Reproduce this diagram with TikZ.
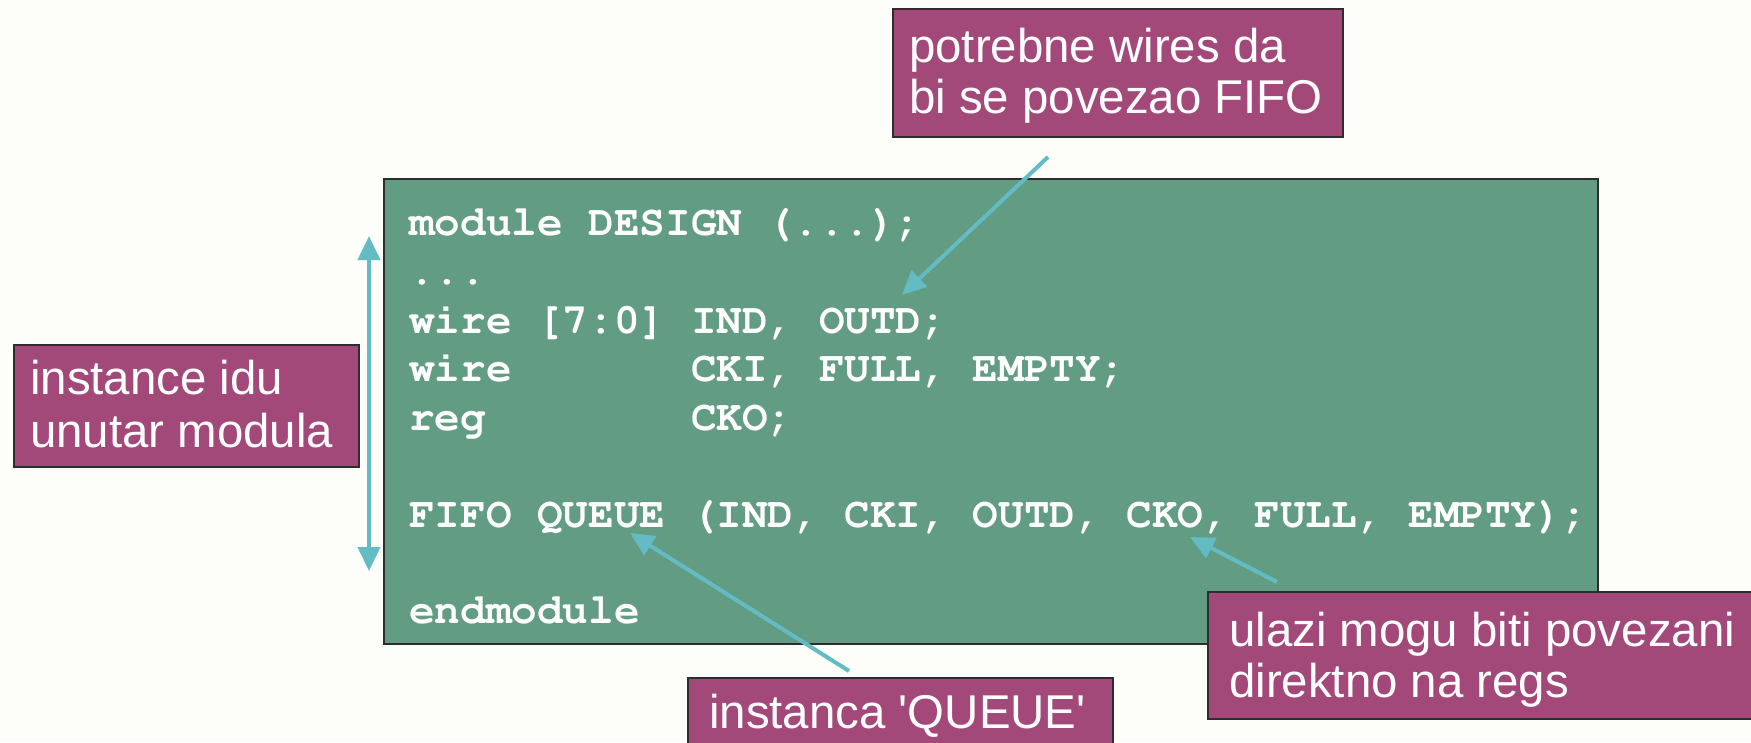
\documentclass[tikz,border=0pt]{standalone}
\usepackage[T1,TU]{fontenc}
\usepackage{fontspec}
\setmainfont{Liberation Sans}
\usetikzlibrary{arrows.meta}

\definecolor{pagebg}{RGB}{253,253,249}
\definecolor{codegreen}{RGB}{98,156,131}
\definecolor{notemag}{RGB}{163,73,122}
\definecolor{pointerteal}{RGB}{99,188,196}
\definecolor{edgegray}{RGB}{45,45,45}

% Verilog listing in bold Courier, callouts in sans
\newcommand\codefont{\fontencoding{T1}\fontfamily{pcr}\fontseries{b}\fontsize{42.7}{48.5}\selectfont}
\newcommand\notefont{\fontsize{47.4}{52}\selectfont}

\tikzset{
  panel/.style={draw=edgegray, line width=1.6pt, inner sep=0pt, anchor=north west},
  codepanel/.style={panel, fill=codegreen},
  notebox/.style={panel, fill=notemag},
  codeline/.style={anchor=base west, inner sep=0pt, text=white, font=\codefont},
  notetext/.style={anchor=base west, inner sep=0pt, text=white, font=\notefont},
  pointer/.style={draw=pointerteal, line width=4pt, -{Triangle[width=22pt,length=24pt]}},
  spanarrow/.style={draw=pointerteal, line width=4pt,
    {Triangle[width=22pt,length=24pt]}-{Triangle[width=22pt,length=24pt]}},
}

\begin{document}
\begin{tikzpicture}[x=1pt,y=-1pt]
  \useasboundingbox (0,0) rectangle (1751,742);
  \fill[pagebg] (0,0) rectangle (1751,742);

  \begin{scope}
    \clip (0,0) rectangle (1751,742);

    % module body
    \node[codepanel, minimum width=1214pt, minimum height=465pt] (code) at (383,178) {};
    \node[codeline] (c1) at (409,235)   {module DESIGN (...);};
    \node[codeline] (c2) at (409,284)   {...};
    \node[codeline] (c3) at (409,333)   {wire [7:0] IND, OUTD;};
    \node[codeline] (c4) at (409,381.5) {wire\ \ \ \ \ \ \ CKI, FULL, EMPTY;};
    \node[codeline] (c5) at (409,430)   {reg\ \ \ \ \ \ \ \ CKO;};
    \node[codeline] (c6) at (409,527)   {FIFO QUEUE (IND, CKI, OUTD, CKO, FULL, EMPTY);};
    \node[codeline] (c7) at (409,623)   {endmodule};

    % callouts
    \node[notebox, minimum width=450pt, minimum height=128pt] (wiresbox) at (892,8) {};
    \node[notetext] (w1) at (909,62.5)  {potrebne wires da};
    \node[notetext] (w2) at (909,113.5) {bi se povezao FIFO};

    \node[notebox, minimum width=345pt, minimum height=122pt] (instbox) at (13,344) {};
    \node[notetext] (i1) at (30,394) {instance idu};
    \node[notetext] (i2) at (30,447) {unutar modula};

    \node[notebox, minimum width=425pt, minimum height=90pt] (queuebox) at (687,677) {};
    \node[notetext] (q1) at (709,728) {instanca \textquotesingle QUEUE\textquotesingle};

    \node[notebox, minimum width=570pt, minimum height=127pt] (regsbox) at (1207,591) {};
    \node[notetext] (r1) at (1229,646) {ulazi mogu biti povezani};
    \node[notetext] (r2) at (1229,697) {direktno na regs};

    % pointer ends
    \coordinate (wiresfrom) at (1048,157);
    \coordinate (wiresto)   at (902,295);
    \coordinate (queuefrom) at (849,671);
    \coordinate (queueto)   at (630,533);
    \coordinate (regsfrom)  at (1277,582);
    \coordinate (regsto)    at (1190,537);
    \coordinate (spantop)   at (369,236);
    \coordinate (spanbot)   at (369,571);

    \draw[pointer] (wiresfrom) -- (wiresto);
    \draw[pointer] (queuefrom) -- (queueto);
    \draw[pointer] (regsfrom) -- (regsto);
    \draw[spanarrow] (spantop) -- (spanbot);
  \end{scope}
\end{tikzpicture}
\end{document}
